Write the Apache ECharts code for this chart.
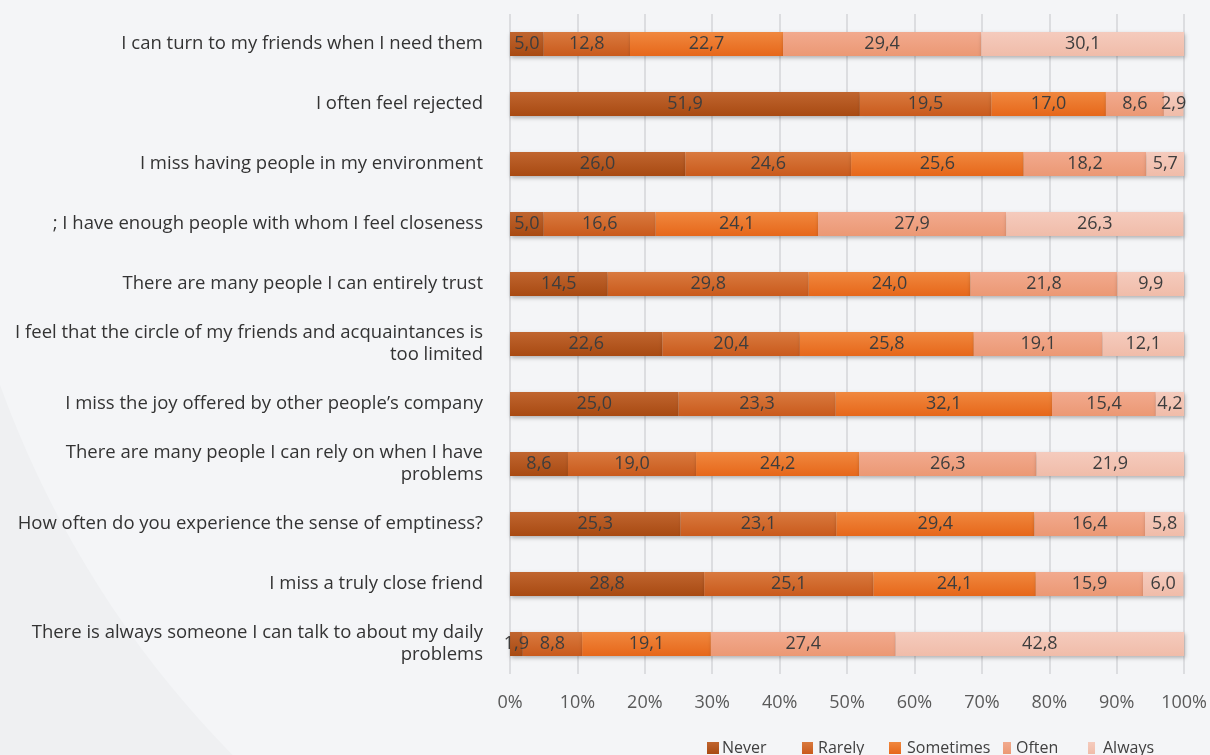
<!DOCTYPE html>
<html>
<head>
<meta charset="utf-8">
<script src="https://cdn.jsdelivr.net/npm/echarts@6/dist/echarts.min.js"></script>
<style>
  html, body { margin: 0; padding: 0; background: #eff0f2; }
  #chart { width: 1210px; height: 755px; }
</style>
</head>
<body>
<div id="chart"></div>
<script>
// Survey statements, top to bottom
const categories = [
  'I can turn to my friends when I need them',
  'I often feel rejected',
  'I miss having people in my environment',
  '; I have enough people with whom I feel closeness',
  'There are many people I can entirely trust',
  'I feel that the circle of my friends and acquaintances is\ntoo limited',
  'I miss the joy offered by other people\u2019s company',
  'There are many people I can rely on when I have\nproblems',
  'How often do you experience the sense of emptiness?',
  'I miss a truly close friend',
  'There is always someone I can talk to about my daily\nproblems'
];

const seriesNames = ['Never', 'Rarely', 'Sometimes', 'Often', 'Always'];

// Percentage shares per answer, one value per statement
const never     = [5.0, 51.9, 26.0, 5.0, 14.5, 22.6, 25.0, 8.6, 25.3, 28.8, 1.9];
const rarely    = [12.8, 19.5, 24.6, 16.6, 29.8, 20.4, 23.3, 19.0, 23.1, 25.1, 8.8];
const sometimes = [22.7, 17.0, 25.6, 24.1, 24.0, 25.8, 32.1, 24.2, 29.4, 24.1, 19.1];
const often     = [29.4, 8.6, 18.2, 27.9, 21.8, 19.1, 15.4, 26.3, 16.4, 15.9, 27.4];
const always    = [30.1, 2.9, 5.7, 26.3, 9.9, 12.1, 4.2, 21.9, 5.8, 6.0, 42.8];

const xTicks = [0, 10, 20, 30, 40, 50, 60, 70, 80, 90, 100];

const values = [never, rarely, sometimes, often, always];

// top / bottom tones of each segment's gradient
const tones = [
  ['#c0652f', '#a84a12'],
  ['#d97a3f', '#c95a1c'],
  ['#f0883f', '#e6671a'],
  ['#f2aa8e', '#eb9874'],
  ['#f5cbbd', '#f0bca9']
];
const legendColors = ['#b3541a', '#d0682a', '#ee7421', '#ec9e80', '#f3c4b4'];

// legend slot layout: left edge, icon width, icon-to-text gap
const legendSlots = [
  { left: 707, w: 12, gap: 3 },
  { left: 802, w: 11, gap: 5 },
  { left: 889, w: 12, gap: 6 },
  { left: 1003, w: 8, gap: 5 },
  { left: 1088, w: 7, gap: 8 }
];

const chart = echarts.init(document.getElementById('chart'), null, { renderer: 'canvas' });

const series = seriesNames.map((name, i) => ({
  name: name,
  type: 'bar',
  stack: 'total',
  barWidth: 24,
  data: values[i],
  itemStyle: {
    color: new echarts.graphic.LinearGradient(0, 0, 0, 1, [
      { offset: 0, color: tones[i][0] },
      { offset: 1, color: tones[i][1] }
    ]),
    shadowColor: 'rgba(0,0,0,0.28)',
    shadowBlur: 4,
    shadowOffsetX: 1,
    shadowOffsetY: 2
  },
  label: {
    show: true,
    position: 'inside',
    color: '#3d3d3d',
    fontFamily: 'Open Sans',
    fontSize: 18,
    formatter: p => p.value.toFixed(1).replace('.', ',')
  },
  emphasis: { disabled: true }
}));

const legends = seriesNames.map((name, i) => ({
  data: [name],
  left: legendSlots[i].left,
  top: 740,
  padding: 0,
  itemWidth: legendSlots[i].w,
  itemHeight: 12,
  icon: 'rect',
  selectedMode: false,
  textStyle: {
    color: '#404040',
    fontFamily: 'Open Sans',
    fontSize: 16,
    padding: [0, 0, 0, legendSlots[i].gap - 5]
  }
}));

chart.setOption({
  backgroundColor: '#eff0f2',
  animation: false,
  color: legendColors,
  graphic: [
    {
      type: 'circle',
      silent: true,
      z: -10,
      shape: { cx: 960, cy: 40, r: 1020 },
      style: { fill: '#f4f5f7' }
    }
  ],
  grid: { left: 510, right: 24, top: 14, bottom: 81, containLabel: false },
  legend: legends,
  xAxis: {
    type: 'value',
    min: 0,
    max: 100,
    interval: 10,
    axisLine: { show: false },
    axisTick: { show: false },
    axisLabel: {
      color: '#595959',
      fontFamily: 'Open Sans',
      fontSize: 18,
      margin: 20,
      formatter: v => xTicks.includes(v) ? v + '%' : ''
    },
    splitLine: { show: true, lineStyle: { color: '#d4d5d8', width: 1.5 } }
  },
  yAxis: {
    type: 'category',
    inverse: true,
    data: categories,
    axisLine: { show: false },
    axisTick: { show: false },
    axisLabel: {
      color: '#333333',
      fontFamily: 'Open Sans',
      fontSize: 18.5,
      margin: 27,
      align: 'right',
      lineHeight: 22
    }
  },
  series: series
});
</script>
</body>
</html>
